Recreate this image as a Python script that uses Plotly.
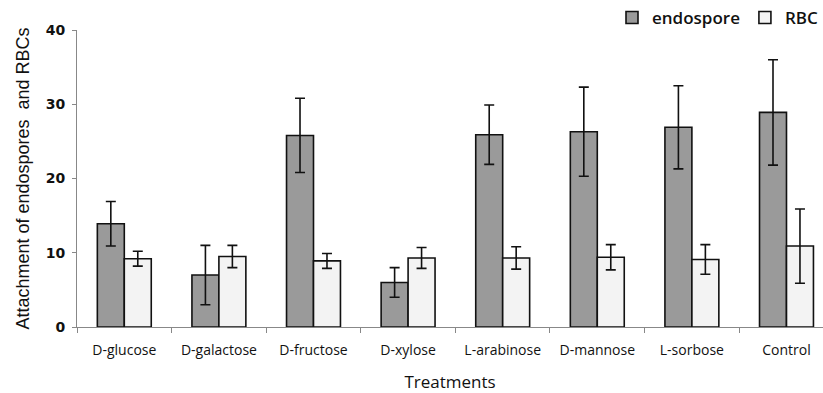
import plotly.graph_objects as go

categories = ["D-glucose", "D-galactose", "D-fructose", "D-xylose",
              "L-arabinose", "D-mannose", "L-sorbose", "Control"]
endospore = [13.9, 7.0, 25.8, 6.0, 25.9, 26.3, 26.9, 28.9]
endospore_err = [3.0, 4.0, 5.0, 2.0, 4.0, 6.0, 5.6, 7.1]
rbc = [9.2, 9.5, 8.9, 9.3, 9.3, 9.4, 9.1, 10.9]
rbc_err = [1.0, 1.5, 1.0, 1.4, 1.5, 1.7, 2.0, 5.0]

fig = go.Figure()
fig.add_trace(go.Bar(
    name="endospore", x=categories, y=endospore,
    marker=dict(color="#9a9a9a", line=dict(color="#111111", width=1.6)),
    error_y=dict(type="data", array=endospore_err, color="#111111", thickness=1.6, width=5),
))
fig.add_trace(go.Bar(
    name="RBC", x=categories, y=rbc,
    marker=dict(color="#f3f3f3", line=dict(color="#111111", width=1.6)),
    error_y=dict(type="data", array=rbc_err, color="#111111", thickness=1.6, width=5),
))

fig.update_layout(
    width=823, height=393,
    margin=dict(l=77, r=0, t=29, b=66),
    paper_bgcolor="white", plot_bgcolor="white",
    barmode="group", bargap=0.43, bargroupgap=0.0,
    showlegend=True,
    legend=dict(orientation="h", x=1.0, xanchor="right", y=1.04, yanchor="middle",
                font=dict(family="Open Sans", size=17, color="#111111", weight=600),
                itemwidth=30, traceorder="normal", bgcolor="rgba(0,0,0,0)"),
    font=dict(family="DejaVu Sans", color="#111111"),
)
fig.update_xaxes(
    range=[-0.5, 7.386], showline=True, linecolor="#888888", linewidth=1,
    ticks="outside", tickson="boundaries", ticklen=5, tickcolor="#888888",
    ticklabelstandoff=10,
    tickfont=dict(family="Open Sans", size=14, color="#111111"),
    title=dict(text="Treatments", font=dict(family="Open Sans", size=17, color="#111111"), standoff=18),
    showgrid=False, zeroline=False,
)
fig.update_yaxes(
    range=[0, 40], dtick=10, showline=True, linecolor="#888888", linewidth=1,
    ticks="outside", ticklen=4, tickcolor="#888888",
    ticklabelstandoff=4,
    tickfont=dict(family="DejaVu Sans", size=14, color="#111111", weight="bold"),
    title=dict(text="Attachment of endospores  and RBCs", font=dict(family="Liberation Sans", size=18, color="#111111"), standoff=11),
    showgrid=False, zeroline=False,
)
fig.write_html("out.html")
